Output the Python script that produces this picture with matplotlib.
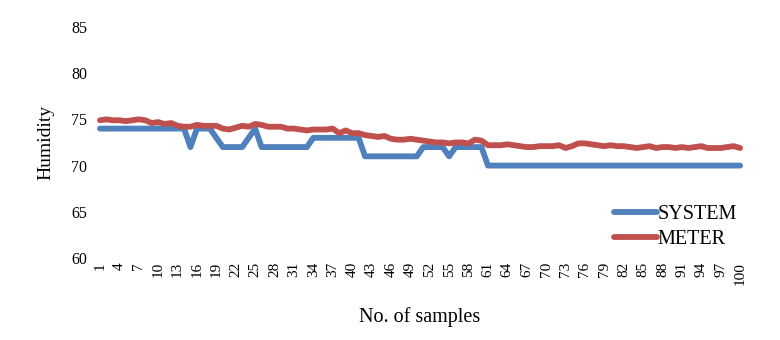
import matplotlib
matplotlib.use("Agg")
import matplotlib.pyplot as plt
import numpy as np

plt.rcParams['font.family'] = ['Liberation Serif', 'DejaVu Serif']

samples = list(range(1, 101))

system = (
    [74] * 14 + [72] + [74] * 3 + [73] + [72] * 4 + [73] + [74]
    + [72] * 8 + [73] * 8 + [71] * 9 + [72] * 4 + [71] + [72] * 5
    + [70] * 40
)

meter = [
    74.9, 75.0, 74.9, 74.9, 74.8, 74.9, 75.0, 74.9, 74.6, 74.7,
    74.5, 74.6, 74.3, 74.2, 74.2, 74.4, 74.3, 74.3, 74.3, 74.0,
    73.9, 74.1, 74.3, 74.2, 74.5, 74.4, 74.2, 74.2, 74.2, 74.0,
    74.0, 73.9, 73.8, 73.9, 73.9, 73.9, 74.0, 73.5, 73.8, 73.5,
    73.5, 73.3, 73.2, 73.1, 73.2, 72.9, 72.8, 72.8, 72.9, 72.8,
    72.7, 72.6, 72.5, 72.5, 72.4, 72.5, 72.5, 72.4, 72.8, 72.7,
    72.2, 72.2, 72.2, 72.3, 72.2, 72.1, 72.0, 72.0, 72.1, 72.1,
    72.1, 72.2, 71.9, 72.1, 72.4, 72.4, 72.3, 72.2, 72.1, 72.2,
    72.1, 72.1, 72.0, 71.9, 72.0, 72.1, 71.9, 72.0, 72.0, 71.9,
    72.0, 71.9, 72.0, 72.1, 71.9, 71.9, 71.9, 72.0, 72.1, 71.9,
]

y_ticks = [60, 65, 70, 75, 80, 85]
x_tick_labels = [str(s) for s in samples[::3]]

fig = plt.figure(figsize=(7.8, 3.4), dpi=100)
ax = fig.add_axes([0.124, 0.241, 0.829, 0.680])

x = np.arange(len(samples))
ax.plot(x, system, color='#4F81BD', lw=4.2, solid_capstyle='round',
        solid_joinstyle='round', label='SYSTEM')
ax.plot(x, meter, color='#C0504D', lw=4.2, solid_capstyle='round',
        solid_joinstyle='round', label='METER')

ax.set_xlim(-0.5, len(samples) - 0.5)
ax.set_ylim(60, 85)
ax.set_yticks(y_ticks)
ax.set_yticklabels([str(v) for v in y_ticks], fontsize=11.5)
ax.set_xticks(x[::3])
ax.set_xticklabels(x_tick_labels, rotation=90, fontsize=11)
ax.tick_params(length=0)
ax.tick_params(axis='x', pad=3)
ax.tick_params(axis='y', pad=7)
for s in ax.spines.values():
    s.set_visible(False)

ax.set_ylabel('Humidity', fontsize=14, labelpad=12)
ax.set_xlabel('No. of samples', fontsize=14.5, labelpad=16)

ax.legend(loc='upper left', bbox_to_anchor=(614 / 780, 1 - 205 / 340),
          bbox_transform=fig.transFigure, frameon=False, fontsize=14.5,
          handlelength=2.15, handletextpad=0.0, labelspacing=0.3,
          borderaxespad=0, borderpad=0)

fig.savefig('out.png', dpi=100)
